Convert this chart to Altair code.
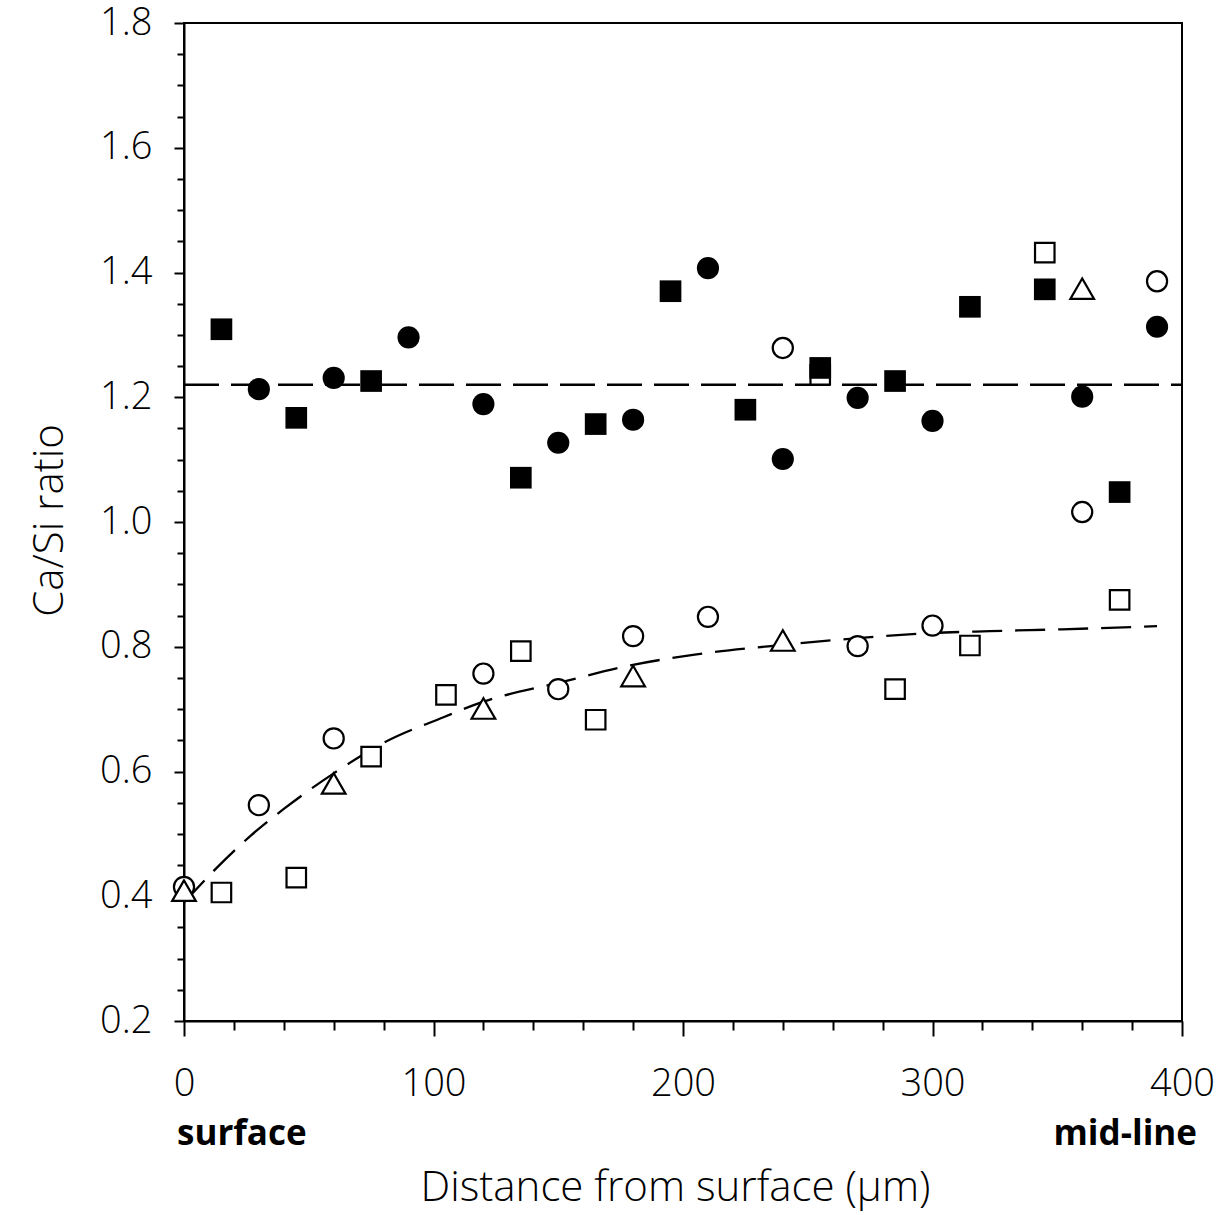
import altair as alt
import pandas as pd

# ---- data ----
fs_x = [15, 45, 75, 135, 165, 195, 225, 255, 285, 315, 345, 375]
fs_y = [1.309, 1.167, 1.226, 1.071, 1.157, 1.370, 1.180, 1.247, 1.226, 1.345, 1.373, 1.048]

fc_x = [30, 60, 90, 120, 150, 180, 210, 240, 270, 300, 360, 390]
fc_y = [1.213, 1.231, 1.296, 1.189, 1.127, 1.164, 1.407, 1.101, 1.199, 1.162, 1.201, 1.313]

oc_x = [0, 30, 60, 120, 150, 180, 210, 240, 270, 300, 360, 390]
oc_y = [0.415, 0.546, 0.653, 0.757, 0.732, 0.817, 0.848, 1.279, 0.801, 0.834, 1.016, 1.386]

os_x = [15, 45, 75, 105, 135, 165, 255, 285, 315, 345, 375]
os_y = [0.406, 0.430, 0.624, 0.723, 0.793, 0.683, 1.236, 0.732, 0.802, 1.432, 0.875]

tri_x = [0, 60, 120, 180, 240, 360]
tri_y = [0.409, 0.581, 0.701, 0.753, 0.810, 1.374]

curve_x = [0, 13, 27, 40, 60, 80, 104, 120, 150, 180, 204, 240, 277, 300, 323, 352, 390]
curve_y = [0.39, 0.445, 0.498, 0.54, 0.597, 0.646, 0.687, 0.712, 0.742, 0.771, 0.787,
           0.803, 0.816, 0.822, 0.825, 0.828, 0.833]

mean_x = [0, 400]
mean_y = [1.22, 1.22]

ann_labels = ["surface", "mid-line"]
ann_x = [0, 400]

x_ticks = list(range(0, 401, 20))
y_ticks = [round(0.2 + 0.05 * i, 2) for i in range(33)]

FONT = "Open Sans"

xs = alt.Scale(domain=[0, 400], nice=False, zero=False)
ys = alt.Scale(domain=[0.2, 1.8], nice=False, zero=False)

x_axis = alt.Axis(
    values=x_ticks,
    format="d",
    labelExpr="datum.value % 100 === 0 ? datum.label : ''",
    tickSize={"condition": {"test": "datum.value % 100 === 0", "value": 15}, "value": 9},
    labelPadding=29,
    labelFontSize=38,
    labelFont=FONT,
    labelFontWeight=300,
    labelAlign="center",
    labelBaseline="top",
    title="Distance from surface (μm)",
    titleFont=FONT,
    titleFontSize=42,
    titleFontWeight=300,
    titleX=491,
    titleY=179,
    titleAlign="center",
    titleBaseline="alphabetic",
    grid=False,
    labelFlush=False,
    labelOverlap=False,
)

y_axis = alt.Axis(
    values=y_ticks,
    labelExpr="round(datum.value * 100) % 20 === 0 ? format(datum.value, '.1f') : ''",
    tickSize={"condition": {"test": "round(datum.value * 100) % 20 === 0", "value": 10}, "value": 7},
    labelPadding=22,
    labelFontSize=38,
    labelFont=FONT,
    labelFontWeight=300,
    labelAlign="right",
    labelBaseline="middle",
    title="Ca/Si ratio",
    titleFont=FONT,
    titleFontSize=42,
    titleFontWeight=300,
    titleAngle=270,
    titleX=-122,
    titleY=497,
    titleAlign="center",
    titleBaseline="alphabetic",
    grid=False,
    labelFlush=False,
    labelOverlap=False,
)


def enc(chart):
    return chart.encode(
        x=alt.X("x:Q", scale=xs, axis=x_axis),
        y=alt.Y("y:Q", scale=ys, axis=y_axis),
    )


def df(xv, yv):
    return pd.DataFrame({"x": xv, "y": yv})


mean_line = enc(alt.Chart(df(mean_x, mean_y)).mark_line(
    color="black", strokeWidth=2.5, strokeDash=[35, 12]))

curve = enc(alt.Chart(df(curve_x, curve_y)).mark_line(
    color="black", strokeWidth=2.3, strokeDash=[30, 13], interpolate="monotone"))

open_sq = enc(alt.Chart(df(os_x, os_y)).mark_point(
    shape="square", size=380, filled=False, fill="white", fillOpacity=1,
    stroke="black", strokeWidth=2.2, opacity=1))

open_circ = enc(alt.Chart(df(oc_x, oc_y)).mark_point(
    shape="circle", size=405, filled=False, fill="white", fillOpacity=1,
    stroke="black", strokeWidth=2.2, opacity=1))

open_tri = enc(alt.Chart(df(tri_x, tri_y)).mark_point(
    shape="triangle-up", size=560, filled=False, fill="white", fillOpacity=1,
    stroke="black", strokeWidth=2.2, opacity=1))

fill_sq = enc(alt.Chart(df(fs_x, fs_y)).mark_point(
    shape="square", size=470, filled=True, color="black", opacity=1, strokeWidth=0))

fill_circ = enc(alt.Chart(df(fc_x, fc_y)).mark_point(
    shape="circle", size=491, filled=True, color="black", opacity=1, strokeWidth=0))

ann_df = pd.DataFrame({"x": ann_x, "label": ann_labels})

ann_left = alt.Chart(ann_df.iloc[[0]]).mark_text(
    align="left", baseline="alphabetic", font=FONT, fontSize=35, fontWeight="bold",
    color="black", dx=-7
).encode(x=alt.X("x:Q", scale=xs, axis=x_axis), y=alt.value(1122), text="label:N")

ann_right = alt.Chart(ann_df.iloc[[1]]).mark_text(
    align="right", baseline="alphabetic", font=FONT, fontSize=35, fontWeight="bold",
    color="black", dx=15
).encode(x=alt.X("x:Q", scale=xs, axis=x_axis), y=alt.value(1122), text="label:N")

chart = alt.layer(
    mean_line, curve, open_sq, open_circ, open_tri, fill_sq, fill_circ, ann_left, ann_right
).properties(
    width=998,
    height=998,
    autosize=alt.AutoSizeParams(type="none"),
    padding={"left": 184, "top": 23, "right": 43, "bottom": 194},
    background="white",
).configure_view(
    stroke="black", strokeWidth=2
).configure_axis(
    domainColor="black", domainWidth=2, tickColor="black", tickWidth=2,
    labelColor="black", titleColor="black"
)

chart.save("out.html", embed_options={"renderer": "svg", "actions": False})
